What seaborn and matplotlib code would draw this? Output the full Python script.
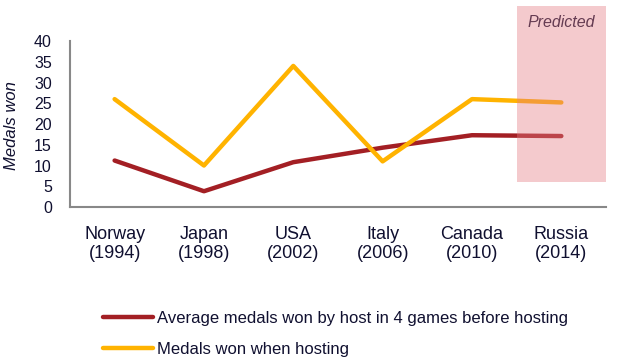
import pandas as pd
import matplotlib.pyplot as plt
import seaborn as sns

hosts = ['Norway\n(1994)', 'Japan\n(1998)', 'USA\n(2002)', 'Italy\n(2006)', 'Canada\n(2010)', 'Russia\n(2014)']
avg_before = [11.2, 3.8, 10.8, 14.3, 17.3, 17.1]
when_hosting = [26, 10, 34, 11, 26, 25.2]
series_names = ['Average medals won by host in 4 games before hosting', 'Medals won when hosting']

df = pd.concat([
    pd.DataFrame({'host': hosts, 'medals': avg_before, 'series': series_names[0]}),
    pd.DataFrame({'host': hosts, 'medals': when_hosting, 'series': series_names[1]}),
])

sns.set_style('white')
plt.rcParams['font.family'] = ['Liberation Sans', 'DejaVu Sans']
text_col = '#101030'

fig = plt.figure(figsize=(6.19, 3.6), dpi=100)
ax = fig.add_axes([0.113, 0.425, 0.866, 0.461])

sns.lineplot(data=df, x='host', y='medals', hue='series', sort=False,
             palette=['#a31f24', '#ffb300'], linewidth=3.2, ax=ax, legend=True)

ax.set_xlim(-0.5, 5.5)
ax.set_ylim(0, 40)
ax.set_yticks(range(0, 41, 5))
ax.set_xticks(range(6))
ax.set_xticklabels(hosts, fontsize=13, color=text_col, linespacing=1.1)
ax.set_xticks([i - 0.5 for i in range(7)], minor=True)
ax.tick_params(axis='x', which='major', length=0, pad=14)
ax.tick_params(axis='x', which='minor', length=4, width=1.2, color='#888888', direction='out')
ax.tick_params(axis='y', length=5, width=1.2, color='#888888', direction='out', labelsize=11.5,
               labelcolor=text_col, pad=8)
ax.set_xlabel('')
ax.set_ylabel('Medals won', fontsize=12, style='italic', color=text_col)
ax.yaxis.set_label_coords(-0.095, 0.49)
for s in ['top', 'right']:
    ax.spines[s].set_visible(False)
for s in ['left', 'bottom']:
    ax.spines[s].set_color('#888888')
    ax.spines[s].set_linewidth(1.5)

# predicted shaded region
rect = plt.Rectangle((4.5, 6), 1.0, 42.4, color='#e47c84', alpha=0.4, lw=0,
                     clip_on=False, zorder=5)
ax.add_patch(rect)
ax.text(5.0, 44.4, 'Predicted', ha='center', va='center', style='italic',
        fontsize=11.5, color=text_col)

handles, labels = ax.get_legend_handles_labels()
ax.get_legend().remove()
fig.legend(handles, labels, loc='upper left', bbox_to_anchor=(0.1664, 0.136),
           frameon=False, fontsize=12, handlelength=3.0, handletextpad=0.25,
           labelspacing=0.95, borderaxespad=0, borderpad=0, labelcolor=text_col)

fig.savefig('out.png', dpi=100)
